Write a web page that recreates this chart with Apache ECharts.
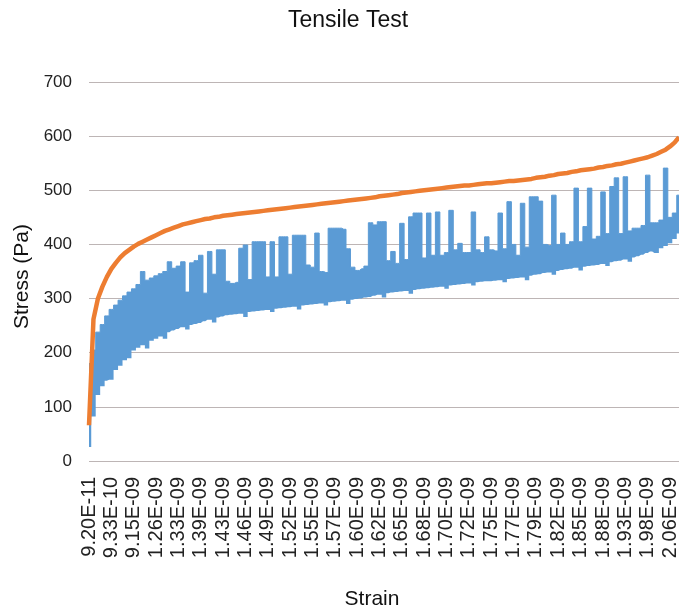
<!DOCTYPE html>
<html>
<head>
<meta charset="utf-8">
<script src="https://cdn.jsdelivr.net/npm/echarts@6/dist/echarts.min.js"></script>
<style>
  html, body { margin: 0; background: #fff; }
  #main { width: 679px; height: 611px; }
</style>
</head>
<body>
<div id="main"></div>
<script>
// strain tick labels (one every 5 samples)
var tickLabels = [
  "9.20E-11", "9.33E-10", "9.15E-09", "1.26E-09", "1.33E-09", "1.39E-09",
  "1.43E-09", "1.46E-09", "1.49E-09", "1.52E-09", "1.55E-09", "1.57E-09",
  "1.60E-09", "1.62E-09", "1.65E-09", "1.68E-09", "1.70E-09", "1.72E-09",
  "1.75E-09", "1.77E-09", "1.79E-09", "1.82E-09", "1.85E-09", "1.88E-09",
  "1.93E-09", "1.98E-09", "2.06E-09"
];

// orange curve (Pa)
var orange = [
  66, 262, 300, 322, 340, 355, 366, 376, 384, 390,
  396, 401, 405, 409, 413, 417, 421, 425, 428, 431,
  434, 437, 439, 441, 443, 445, 447, 448, 450, 451,
  453, 454, 455, 456, 457, 458, 459, 460, 461, 462,
  463, 464, 465, 466, 467, 468, 469, 470, 471, 472,
  473, 474, 475, 476, 477, 478, 479, 480, 481, 482,
  483, 484, 485, 486, 487, 489, 490, 491, 492, 493,
  495, 496, 497, 498, 499, 500, 501, 502, 503, 504,
  505, 506, 507, 508, 509, 509, 510, 511, 512, 513,
  513, 514, 515, 516, 517, 517, 518, 519, 520, 521,
  523, 524, 525, 527, 528, 530, 531, 532, 534, 535,
  537, 538, 539, 540, 542, 543, 545, 546, 548, 549,
  551, 553, 555, 557, 559, 561, 564, 567, 571, 575,
  581, 588, 598
];

// blue signal: lower edge of the band (Pa)
var blueLow = [
  26, 82, 122, 138, 148, 150, 168, 176, 186, 190,
  204, 209, 214, 208, 222, 226, 230, 226, 238, 241,
  244, 247, 243, 251, 253, 255, 258, 261, 256, 265,
  267, 269, 270, 271, 272, 266, 275, 276, 277, 278,
  279, 275, 281, 282, 283, 284, 285, 280, 287, 288,
  289, 290, 291, 287, 293, 294, 295, 296, 290, 298,
  299, 300, 302, 303, 305, 307, 302, 310, 311, 312,
  313, 314, 309, 316, 317, 318, 319, 320, 321, 322,
  318, 324, 325, 326, 327, 328, 324, 330, 331, 332,
  332, 333, 334, 330, 336, 337, 338, 339, 334, 342,
  344, 345, 347, 348, 344, 351, 353, 354, 355, 357,
  352, 359, 360, 361, 362, 364, 360, 367, 369, 370,
  372, 368, 376, 378, 381, 384, 387, 384, 393, 397,
  402, 410, 420
];

// blue signal: upper edge of the band, spikes included (Pa)
var blueHigh = [
  180, 205, 238, 252, 268, 280, 288, 297, 305, 312,
  318, 326, 350, 334, 338, 342, 346, 350, 368, 356,
  360, 368, 312, 366, 370, 380, 310, 387, 345, 390,
  390, 332, 328, 330, 393, 399, 335, 405, 405, 405,
  340, 405, 340, 414, 414, 345, 417, 417, 417, 362,
  358, 421, 350, 348, 430, 430, 430, 428, 392, 358,
  352, 355, 360, 440, 436, 442, 442, 370, 387, 365,
  439, 372, 451, 458, 458, 375, 458, 380, 460, 380,
  385, 463, 390, 402, 385, 385, 460, 390, 385, 414,
  390, 388, 458, 392, 479, 400, 380, 476, 395, 488,
  488, 480, 400, 398, 491, 400, 421, 400, 405, 504,
  405, 433, 504, 410, 415, 497, 420, 507, 523, 420,
  525, 425, 430, 430, 435, 528, 440, 440, 445, 541,
  450, 458, 491
];

// category axis: a label every 5 samples, blanks between
var categories = [];
tickLabels.forEach(function (t, k) {
  categories.push(t);
  if (k < tickLabels.length - 1) {
    for (var j = 0; j < 4; j++) categories.push("");
  }
});
categories.push("", "");

var blueBand = blueHigh.map(function (v, i) { return v - blueLow[i]; });

var myChart = echarts.init(document.getElementById("main"));

var option = {
  animation: false,
  textStyle: { fontFamily: "Liberation Sans, Arial, sans-serif" },
  title: {
    text: "Tensile Test",
    left: 283,
    top: 4,
    textStyle: { fontSize: 23, fontWeight: "normal", color: "#111" },
  },
  grid: { left: 89, right: 0, top: 82, bottom: 150, outerBoundsMode: "none" },
  xAxis: {
    type: "category",
    data: categories,
    boundaryGap: false,
    name: "Strain",
    nameLocation: "middle",
    nameGap: 128,
    nameTextStyle: { fontSize: 21, color: "#111", padding: [0, 24, 0, 0] },
    axisLine: { show: false },
    axisTick: { show: false },
    axisLabel: { interval: 4, rotate: 90, fontSize: 20, margin: 16, color: "#222" },
  },
  yAxis: {
    type: "value",
    min: 0,
    max: 700,
    interval: 100,
    name: "Stress (Pa)",
    nameLocation: "middle",
    nameGap: 49,
    nameTextStyle: { fontSize: 21, color: "#111", padding: [0, 10, 0, 0] },
    axisLine: { show: false },
    axisTick: { show: false },
    axisLabel: { fontSize: 17, margin: 17, color: "#222" },
    splitLine: { lineStyle: { color: "#bdb5b5", width: 1 } },
  },
  series: [
    {
      name: "low",
      type: "line",
      data: blueLow,
      stack: "blue",
      step: "middle",
      symbol: "none",
      silent: true,
      lineStyle: { opacity: 0 },
    },
    {
      name: "signal",
      type: "line",
      data: blueBand,
      stack: "blue",
      step: "middle",
      symbol: "none",
      lineStyle: { width: 1, color: "#5B9BD5" },
      areaStyle: { color: "#5B9BD5", opacity: 1 },
    },
    {
      name: "fit",
      type: "line",
      data: orange,
      symbol: "none",
      lineStyle: { width: 4.5, color: "#ED7D31" },
    },
  ],
};

myChart.setOption(option);
window.addEventListener("resize", myChart.resize);
</script>
</body>
</html>
